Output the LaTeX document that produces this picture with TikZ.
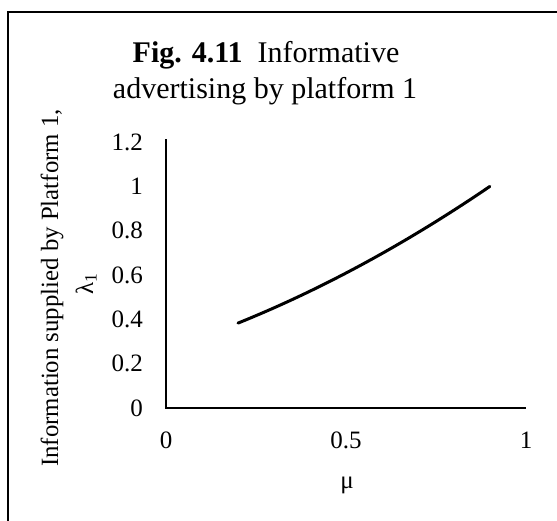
\documentclass[tikz,border=0pt]{standalone}
\usepackage{fontspec}
\setmainfont{Liberation Serif}
\begin{document}
\begin{tikzpicture}[x=1pt,y=-1pt,
  lbl/.style={inner sep=0pt,font=\fontsize{25}{30}\selectfont},
  ylbl/.style={inner sep=0pt,font=\fontsize{24.8}{30}\selectfont},
  ttl/.style={inner sep=0pt,font=\fontsize{30}{36}\selectfont},
  axisline/.style={line width=1.6pt},
  frameline/.style={line width=2pt},
  curve/.style={line width=3pt,line cap=round}]
\useasboundingbox (0,0) rectangle (557,520);
% frame (top and left)
\coordinate (fbl) at (7.5,521);
\coordinate (ftl) at (7.5,12);
\coordinate (ftr) at (558,12);
\draw[frameline] (fbl) -- (ftl) -- (ftr);
% title
\node[ttl,anchor=base] (t1) at (266,62) {\textbf{Fig. 4.11}\ \ Informative};
\node[ttl,anchor=base] (t2) at (265,98) {advertising by platform 1};
% axes
\coordinate (ytop) at (166,139);
\coordinate (org) at (166,408);
\coordinate (xend) at (526,408);
\draw[axisline] (ytop) -- (org) -- (xend);
% y tick labels
\foreach \v/\s in {0/0,0.2/0.2,0.4/0.4,0.6/0.6,0.8/0.8,1/1,1.2/1.2}{
  \node[lbl,anchor=east] (y\s) at (143,{408-\v*221.7}) {\s};
}
% x tick labels
\node[lbl] (x0) at (166,440) {0};
\node[lbl] (x05) at (346,440) {0.5};
\node[lbl] (x1) at (526,440) {1};
% axis titles
\node[lbl,anchor=base] (xlab) at (347,488) {μ};
\node[ylbl,rotate=90,anchor=base] (ylab1) at (58,288) {Information supplied by Platform 1,};
\node[ylbl,rotate=90,anchor=base] (ylab2) at (93,284) {λ\textsubscript{1}};
% curve
\draw[curve] plot[domain=0.2:0.9,samples=60,smooth]
  ({166+\x*360},{408-221.7*(0.383+0.656*(\x-0.2)+0.322*(\x-0.2)*(\x-0.2))});
\end{tikzpicture}
\end{document}
